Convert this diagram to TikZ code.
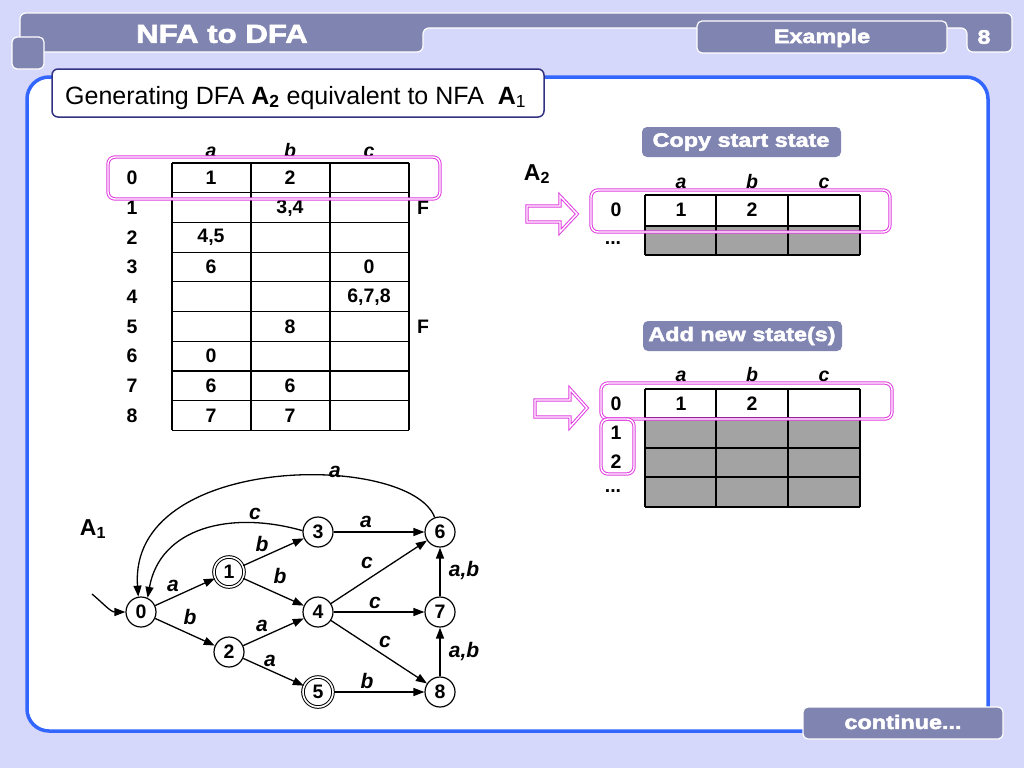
\documentclass[tikz,border=0pt]{standalone}
\usepackage{fontspec}
\setmainfont{Liberation Sans}
\newfontfamily\heavy[FakeStretch=1.2,FakeBold=2.5]{Liberation Sans Bold}
\usetikzlibrary{arrows.meta}
\definecolor{bg}{RGB}{213,216,250}
\definecolor{bar}{RGB}{128,132,176}
\definecolor{pblue}{RGB}{51,102,255}
\definecolor{tborder}{RGB}{50,50,130}
\definecolor{pink}{RGB}{225,60,225}
\definecolor{cellgray}{RGB}{163,163,163}
\tikzset{
  num/.style={font=\fontsize{19.5}{19.5}\selectfont\bfseries, inner sep=0pt},
  hdr/.style={font=\fontsize{19.5}{19.5}\selectfont\bfseries\itshape, inner sep=0pt, anchor=base},
  tabtext/.style={font=\heavy\fontsize{19.5}{19.5}\selectfont, text=white, inner sep=0pt},
  tabbox/.style={fill=bar, draw=white, line width=1.2pt, rounded corners=5pt},
  hl/.style={draw=pink, double=white, double distance=1.4pt, line width=1pt, rounded corners=7pt},
  grid/.style={line width=1.2pt, black},
  st/.style={circle, draw, line width=1.2pt, fill=white, minimum size=30pt, inner sep=0pt, font=\fontsize{19.5}{19.5}\selectfont\bfseries},
  acc/.style={st, double=white, double distance=1.6pt, line width=1pt},
  tr/.style={line width=1.3pt, -{Triangle[length=11pt,width=8pt]}},
  lbl/.style={font=\fontsize{21}{21}\selectfont\bfseries\itshape, inner sep=0pt, anchor=base},
}
\begin{document}
\begin{tikzpicture}[x=1pt,y=-1pt]
\fill[bg] (0,0) rectangle (1024,768);
\useasboundingbox (0,0) rectangle (1024,768);
% header
\draw[fill=bar, draw=white, line width=1.2pt, rounded corners=6pt]
  (20,52) -- (20,13) -- (1012,13) -- (1012,52) -- (967,52) -- (967,28) -- (423,28) -- (423,52) -- cycle;
\draw[tabbox] (697,21) rectangle (947,53);
\node[tabtext] (ex) at (822,38) {Example};
\node[tabtext] (pg) at (984,37) {8};
\node[tabtext, font=\heavy\fontsize{26}{26}\selectfont] (title) at (222,34) {NFA to DFA};
\draw[tabbox] (12,37) rectangle (44,69);
% panel
\draw[pblue, line width=3.5pt, fill=white, rounded corners=22pt] (27,77) rectangle (988,731);
% title box
\draw[draw=tborder, fill=white, line width=1.5pt, rounded corners=6pt] (52,69) rectangle (544,117);
\node[anchor=base west, inner sep=0pt, font=\fontsize{25}{25}\selectfont] (sub) at (65,104)
  {Generating DFA \textbf{A}\textsubscript{\textbf{2}} equivalent to NFA~ \textbf{A}\textsubscript{1}};
% continue
\draw[tabbox] (803,707) rectangle (1003,739);
\node[tabtext] (cont) at (903,722) {continue...};

% NFA table
\foreach \c/\l in {1/a,2/b,3/c} \node[hdr] (h\l) at ({132+79*\c},157) {\l};
\foreach \r in {0,...,8} \node[num] (r\r) at (132,{178+29.7*\r}) {\r};
\foreach \r/\c/\t in {0/1/1, 0/2/2, 1/2/{3,4}, 2/1/{4,5}, 3/1/6, 3/3/0, 4/3/{6,7,8}, 5/2/8, 6/1/0, 7/1/6, 7/2/6, 8/1/7, 8/2/7}
  \node[num] (c\r\c) at ({132+79*\c},{178+29.7*\r}) {\t};
\foreach \k in {0,...,9} \draw[grid] (172,{163+29.7*\k}) -- (409,{163+29.7*\k});
\foreach \x in {172,251,330,409} \draw[grid] (\x,163) -- (\x,430.3);
\node[num] (f1) at (423,208) {F};
\node[num] (f5) at (423,327) {F};
\draw[hl] (108,157) rectangle (440,199);

% right side: copy start state
\draw[tabbox, draw=none] (642,127) rectangle (841,157);
\node[tabtext] (copy) at (741,142) {Copy start state};
\node[num, font=\fontsize{23}{23}\selectfont\bfseries] (a2) at (537,174) {A\textsubscript{2}};
\foreach \x/\l in {681/a,752/b,824/c} \node[hdr] (ha\l) at (\x,188) {\l};
\fill[cellgray] (645,226) rectangle (860,255);
\foreach \y in {195,226,255} \draw[grid] (645,\y) -- (860,\y);
\foreach \x in {645,716,788,860} \draw[grid] (\x,195) -- (\x,255);
\node[num] (s0) at (616,210) {0};
\node[num] (sa) at (681,210) {1};
\node[num] (sb) at (752,210) {2};
\node[num] (sd) at (613,243) {...};
\draw[hl] (591,190) rectangle (890,232);
\draw[hl, rounded corners=0pt] (527,206) -- (560,206) -- (560,196) -- (577,214) -- (560,232) -- (560,222) -- (527,222) -- cycle;

% right side: add new states
\draw[tabbox, draw=none] (643,321) rectangle (842,351);
\node[tabtext] (add) at (742,336) {Add new state(s)};
\foreach \x/\l in {681/a,752/b,824/c} \node[hdr] (hb\l) at (\x,381) {\l};
\fill[cellgray] (645,418) rectangle (860,507);
\foreach \y in {389,418,448,477,507} \draw[grid] (645,\y) -- (860,\y);
\foreach \x in {645,716,788,860} \draw[grid] (\x,389) -- (\x,507);
\node[num] (u0) at (616,404) {0};
\node[num] (u1) at (616,433) {1};
\node[num] (u2) at (616,462) {2};
\node[num] (ud) at (613,491) {...};
\node[num] (ua) at (681,404) {1};
\node[num] (ub) at (752,404) {2};
\draw[hl] (601,383) rectangle (892,419);
\draw[hl] (601,419) rectangle (634,474);
\draw[hl, rounded corners=0pt] (535,400) -- (570,400) -- (570,389) -- (587,408) -- (570,427) -- (570,417) -- (535,417) -- cycle;

% NFA graph
\node[num, font=\fontsize{23}{23}\selectfont\bfseries] (a1) at (93,529) {A\textsubscript{1}};
\node[st] (n0) at (141,612) {0};
\node[acc] (n1) at (229,572) {1};
\node[st] (n2) at (229,652) {2};
\node[st] (n3) at (318,532) {3};
\node[st] (n4) at (318,612) {4};
\node[acc] (n5) at (318,692) {5};
\node[st] (n6) at (440,532) {6};
\node[st] (n7) at (440,612) {7};
\node[st] (n8) at (440,692) {8};
\coordinate (start) at (92,594);
\draw[tr] (start) to[out=-40,in=180] (n0);
\draw[tr] (n0) -- (n1);
\draw[tr] (n0) -- (n2);
\draw[tr] (n1) -- (n3);
\draw[tr] (n1) -- (n4);
\draw[tr] (n2) -- (n4);
\draw[tr] (n2) -- (n5);
\draw[tr] (n3) -- (n6);
\draw[tr] (n4) -- (n6);
\draw[tr] (n4) -- (n7);
\draw[tr] (n4) -- (n8);
\draw[tr] (n5) -- (n8);
\draw[tr] (n7) -- (n6);
\draw[tr] (n8) -- (n7);
\draw[tr] (n3.175) .. controls (230,510) and (160,528) .. (n0.65);
\draw[tr] (n6.110) .. controls (410,452) and (128,452) .. (n0.100);
\node[lbl] (l01) at (173,591) {a};
\node[lbl] (l02) at (190,624) {b};
\node[lbl] (l13) at (262,551) {b};
\node[lbl] (l14) at (280,583) {b};
\node[lbl] (l24) at (262,631) {a};
\node[lbl] (l25) at (270,666) {a};
\node[lbl] (l36) at (366,527) {a};
\node[lbl] (l46) at (367,568) {c};
\node[lbl] (l47) at (375,608) {c};
\node[lbl] (l48) at (385,647) {c};
\node[lbl] (l58) at (367,688) {b};
\node[lbl] (l76) at (464,576) {a,b};
\node[lbl] (l87) at (464,657) {a,b};
\node[lbl] (l30) at (255,519) {c};
\node[lbl] (l60) at (335,477) {a};
\end{tikzpicture}
\end{document}
